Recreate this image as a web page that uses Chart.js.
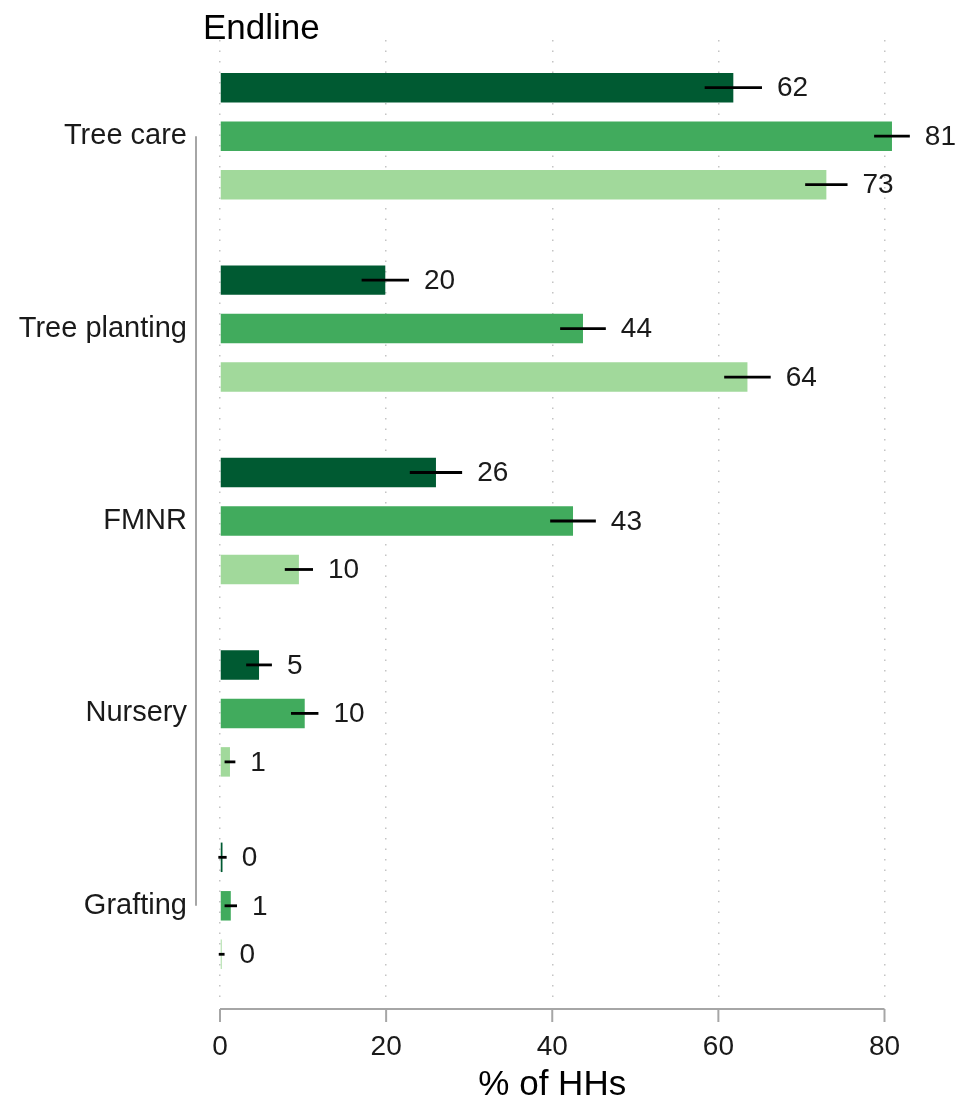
<!DOCTYPE html>
<html>
<head>
<meta charset="utf-8">
<script src="https://cdn.jsdelivr.net/npm/chart.js@4.4.1/dist/chart.umd.min.js"></script>
<style>
  html, body { margin: 0; padding: 0; background: #fff; }
  #wrap { width: 959px; height: 1109px; }
</style>
</head>
<body>
<div id="wrap"><canvas id="chart"></canvas></div>
<script>
// categories and values
const categories = ['Tree care', 'Tree planting', 'FMNR', 'Nursery', 'Grafting'];
const darkValues = [61.8, 19.9, 26.0, 4.7, 0.3];
const midValues = [80.9, 43.7, 42.5, 10.2, 1.3];
const lightValues = [73.0, 63.5, 9.5, 1.2, 0.2];
// half-width of the confidence interval
const darkErr = [3.45, 2.85, 3.15, 1.55, 0.5];
const midErr = [2.15, 2.75, 2.75, 1.65, 0.75];
const lightErr = [2.55, 2.8, 1.7, 0.65, 0.35];
const xTicks = [0, 20, 40, 60, 80];
const chartTitle = 'Endline';

const FONT = '"Liberation Sans", Arial, Helvetica, sans-serif';
const errors = [darkErr, midErr, lightErr];

// error bars and value labels
const errorBars = {
  id: 'errorBars',
  afterDatasetsDraw(chart) {
    const ctx = chart.ctx;
    const x = chart.scales.x;
    ctx.save();
    chart.data.datasets.forEach((ds, i) => {
      const meta = chart.getDatasetMeta(i);
      meta.data.forEach((bar, j) => {
        const v = ds.data[j];
        const e = errors[i][j];
        const lo = x.getPixelForValue(v - e);
        const hi = x.getPixelForValue(v + e);
        ctx.strokeStyle = '#000';
        ctx.lineWidth = 2.8;
        ctx.beginPath();
        ctx.moveTo(lo, bar.y);
        ctx.lineTo(hi, bar.y);
        ctx.stroke();
        ctx.fillStyle = '#1a1a1a';
        ctx.font = '28px ' + FONT;
        ctx.textAlign = 'left';
        ctx.textBaseline = 'middle';
        ctx.fillText(String(Math.round(v)), hi + 15, bar.y + 1);
      });
    });
    ctx.restore();
  }
};

// stata-style axes: short y line between first and last group, x line a bit below the plot, title top left
const axisLines = {
  id: 'axisLines',
  afterDraw(chart) {
    const ctx = chart.ctx;
    const x = chart.scales.x;
    const y = chart.scales.y;
    const area = chart.chartArea;
    ctx.save();
    ctx.strokeStyle = '#a6a6a6';
    ctx.lineWidth = 2;
    // y axis
    const yx = area.left - 24;
    ctx.beginPath();
    ctx.moveTo(yx, y.getPixelForValue(0));
    ctx.lineTo(yx, y.getPixelForValue(categories.length - 1));
    ctx.stroke();
    // x axis
    const ay = area.bottom + 7;
    ctx.beginPath();
    ctx.moveTo(x.getPixelForValue(xTicks[0]), ay);
    ctx.lineTo(x.getPixelForValue(xTicks[xTicks.length - 1]), ay);
    ctx.stroke();
    xTicks.forEach(t => {
      const px = x.getPixelForValue(t);
      ctx.beginPath();
      ctx.moveTo(px, ay);
      ctx.lineTo(px, ay + 13);
      ctx.stroke();
    });
    // title
    ctx.fillStyle = '#000';
    ctx.font = '35px ' + FONT;
    ctx.textAlign = 'left';
    ctx.textBaseline = 'alphabetic';
    ctx.fillText(chartTitle, area.left - 17, 39);
    ctx.restore();
  }
};

new Chart(document.getElementById('chart'), {
  type: 'bar',
  data: {
    labels: categories,
    datasets: [
      { data: darkValues, backgroundColor: '#005a32' },
      { data: midValues, backgroundColor: '#41ab5d' },
      { data: lightValues, backgroundColor: '#a1d99b' }
    ]
  },
  options: {
    indexAxis: 'y',
    responsive: true,
    maintainAspectRatio: false,
    animation: false,
    layout: { padding: { left: 0, right: 74.5, top: 40, bottom: 0 } },
    datasets: {
      bar: {
        categoryPercentage: 0.756,
        barPercentage: 0.608,
        borderWidth: 0,
        clip: false
      }
    },
    plugins: {
      legend: { display: false },
      tooltip: { enabled: false },
      title: { display: false }
    },
    scales: {
      x: {
        type: 'linear',
        min: 0,
        max: 80,
        afterBuildTicks: (scale) => { scale.ticks = xTicks.map(v => ({ value: v })); },
        afterFit: (scale) => { scale.height = 107; },
        border: { display: false, dash: [1.5, 9] },
        grid: {
          color: '#c4c4c4',
          lineWidth: 1.5,
          drawTicks: false
        },
        ticks: {
          color: '#1a1a1a',
          padding: 28,
          maxRotation: 0,
          font: { family: FONT, size: 28 }
        },
        title: {
          display: true,
          text: '% of HHs',
          color: '#000',
          font: { family: FONT, size: 35, lineHeight: 1.2 },
          padding: { top: 0, bottom: 3 }
        }
      },
      y: {
        afterFit: (scale) => {
          scale.width = 220;
          scale.paddingTop = 0;
          scale.paddingBottom = 0;
        },
        border: { display: false },
        grid: { display: false, drawTicks: false },
        ticks: {
          color: '#1a1a1a',
          padding: 33,
          autoSkip: false,
          font: { family: FONT, size: 29 }
        }
      }
    }
  },
  plugins: [errorBars, axisLines]
});
</script>
</body>
</html>
